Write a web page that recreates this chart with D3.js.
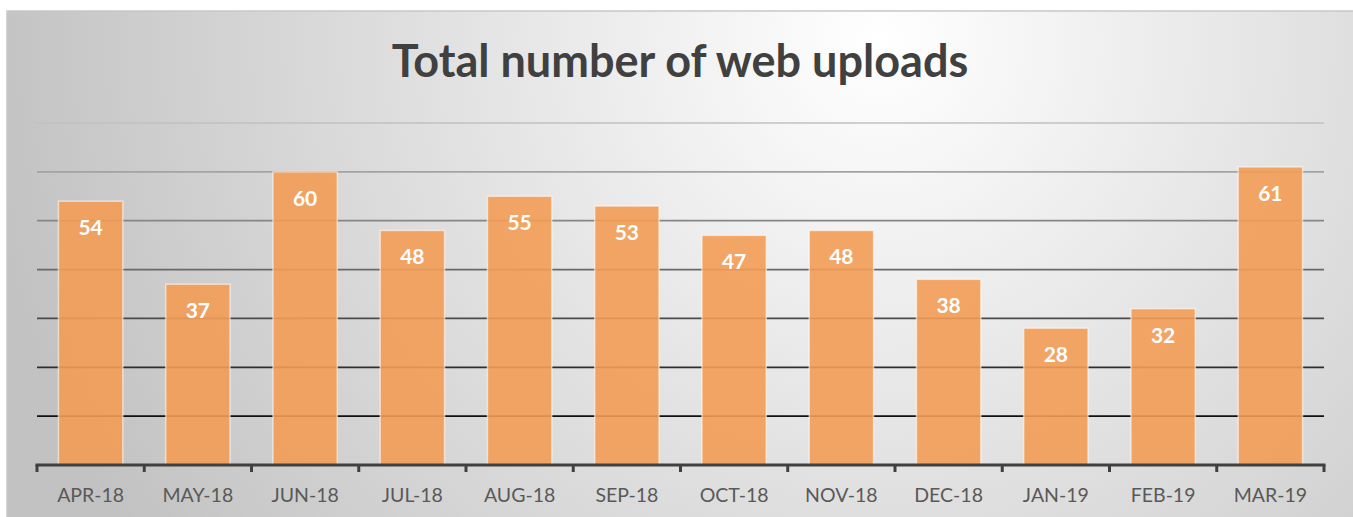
<!DOCTYPE html>
<html>
<head>
<meta charset="utf-8">
<script src="https://cdn.jsdelivr.net/npm/d3@7"></script>
<style>
  body { margin: 0; background: #fff; }
  svg { display: block; }
</style>
</head>
<body>
<svg id="chart" width="1353" height="517"></svg>
<script>
var months = ["APR-18", "MAY-18", "JUN-18", "JUL-18", "AUG-18", "SEP-18",
              "OCT-18", "NOV-18", "DEC-18", "JAN-19", "FEB-19", "MAR-19"];
var uploads = [54, 37, 60, 48, 55, 53, 47, 48, 38, 28, 32, 61];
var gridTicks = [10, 20, 30, 40, 50, 60, 70];
var chartTitle = "Total number of web uploads";

var svg = d3.select("#chart"),
    margin = {top: 123, right: 29, bottom: 52, left: 37},
    width = svg.attr("width") - margin.left - margin.right,
    height = svg.attr("height") - margin.top - margin.bottom;

// background gradient
var defs = svg.append("defs");
var bg = defs.append("radialGradient")
    .attr("id", "bg")
    .attr("gradientUnits", "userSpaceOnUse")
    .attr("cx", 880).attr("cy", 40).attr("r", 900);
bg.append("stop").attr("offset", "0%").attr("stop-color", "#ffffff");
bg.append("stop").attr("offset", "100%").attr("stop-color", "#c2c2c2");

svg.append("rect")
    .attr("x", 7).attr("y", 11)
    .attr("width", 1353).attr("height", 517)
    .attr("fill", "url(#bg)")
    .attr("stroke", "#c8c8c8")
    .attr("stroke-width", 1.5);

var g = svg.append("g")
    .attr("transform", "translate(" + margin.left + "," + margin.top + ")");

var x = d3.scaleBand()
    .domain(months)
    .range([0, width])
    .paddingInner(0.4)
    .paddingOuter(0.2);

var y = d3.scaleLinear()
    .domain([0, 70])
    .range([height, 0]);

var gridColor = d3.scaleLinear()
    .domain([10, 70])
    .range(["#111111", "#c0c0c0"]);

// gridlines
g.selectAll(".grid")
    .data(gridTicks)
    .enter().append("line")
    .attr("class", "grid")
    .attr("x1", 0)
    .attr("x2", width)
    .attr("y1", function(d) { return y(d); })
    .attr("y2", function(d) { return y(d); })
    .attr("stroke", function(d) { return gridColor(d); })
    .attr("stroke-width", 1.7);

// bars
g.selectAll(".bar")
    .data(uploads)
    .enter().append("rect")
    .attr("class", "bar")
    .attr("x", function(d, i) { return x(months[i]); })
    .attr("y", function(d) { return y(d); })
    .attr("width", x.bandwidth())
    .attr("height", function(d) { return height - y(d); })
    .attr("fill", "#f39c55")
    .attr("fill-opacity", 0.9)
    .attr("stroke", "#ffffff")
    .attr("stroke-opacity", 0.55)
    .attr("stroke-width", 1.5);

// value labels
g.selectAll(".value")
    .data(uploads)
    .enter().append("text")
    .attr("class", "value")
    .attr("x", function(d, i) { return x(months[i]) + x.bandwidth() / 2; })
    .attr("y", function(d) { return y(d) + 34; })
    .attr("text-anchor", "middle")
    .style("font-family", "Lato, 'Open Sans', sans-serif")
    .style("font-weight", "bold")
    .style("font-size", "21px")
    .style("fill", "#ffffff")
    .text(function(d) { return d; });

// x axis: line with ticks at category boundaries
var axis = g.append("g")
    .attr("class", "axis axis--x")
    .attr("transform", "translate(0," + height + ")");

axis.append("line")
    .attr("x1", -1.5).attr("x2", width + 1.5)
    .attr("y1", 0).attr("y2", 0)
    .attr("stroke", "#404040")
    .attr("stroke-width", 3);

axis.selectAll(".tick")
    .data(d3.range(months.length + 1))
    .enter().append("line")
    .attr("class", "tick")
    .attr("x1", function(i) { return i * x.step(); })
    .attr("x2", function(i) { return i * x.step(); })
    .attr("y1", 0).attr("y2", 7)
    .attr("stroke", "#404040")
    .attr("stroke-width", 3);

axis.selectAll(".label")
    .data(months)
    .enter().append("text")
    .attr("class", "label")
    .attr("x", function(d) { return x(d) + x.bandwidth() / 2; })
    .attr("y", 37)
    .attr("text-anchor", "middle")
    .style("font-family", "Lato, 'Open Sans', sans-serif")
    .style("font-size", "19.5px")
    .style("fill", "#595959")
    .text(function(d) { return d; });

// title
svg.append("text")
    .attr("x", 680)
    .attr("y", 77)
    .attr("text-anchor", "middle")
    .style("font-family", "Lato, 'Open Sans', sans-serif")
    .style("font-weight", "bold")
    .style("font-size", "45px")
    .style("fill", "#404040")
    .text(chartTitle);
</script>
</body>
</html>
